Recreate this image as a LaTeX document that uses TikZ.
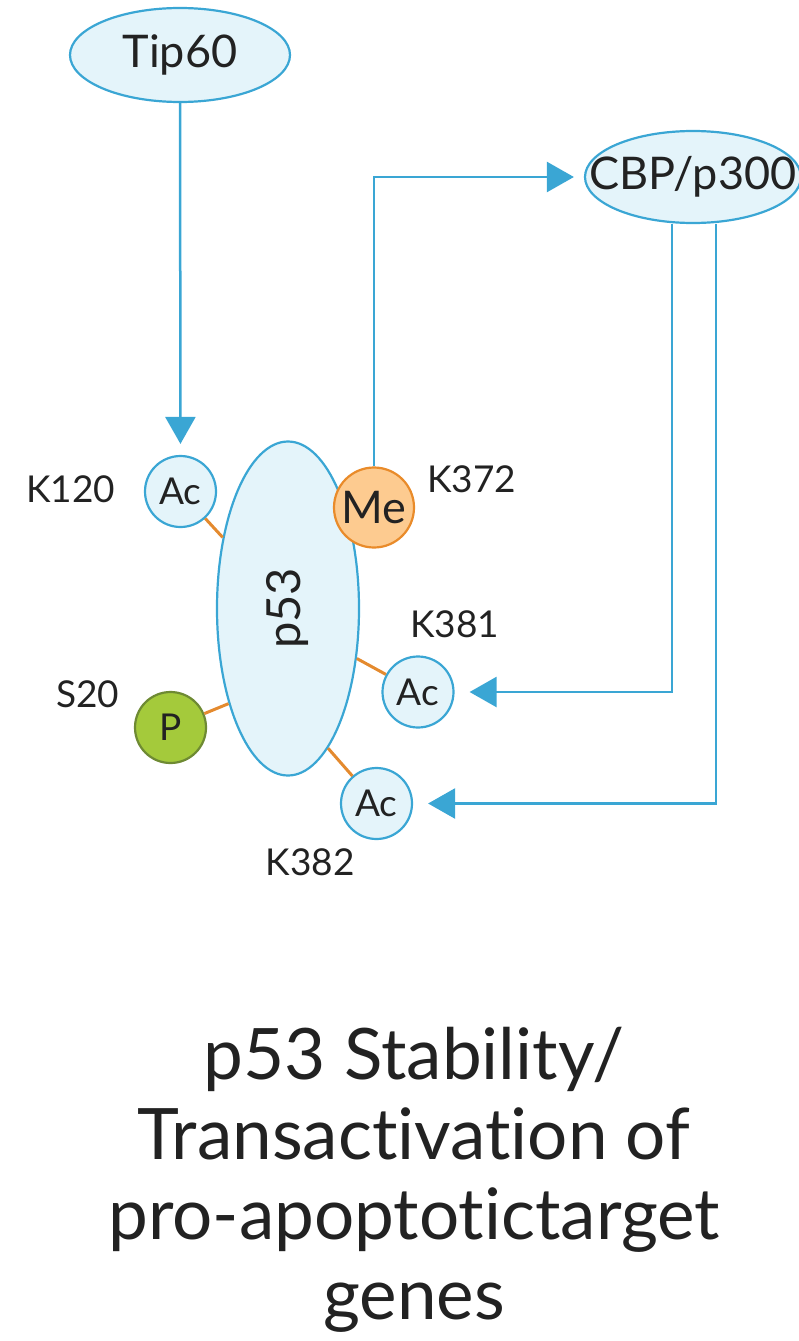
\documentclass[tikz,border=0pt]{standalone}
\usepackage{fontspec}
\setmainfont{Lato}[Ligatures=NoCommon]
\usetikzlibrary{arrows.meta,shapes.geometric,positioning}
\definecolor{pblue}{RGB}{58,166,212}
\definecolor{pfill}{RGB}{228,244,250}
\definecolor{porange}{RGB}{228,138,46}
\definecolor{mefill}{RGB}{253,203,144}
\definecolor{meline}{RGB}{233,139,42}
\definecolor{pgreen}{RGB}{164,202,59}
\definecolor{pgreenline}{RGB}{110,138,51}
\definecolor{ink}{RGB}{34,34,34}
\begin{document}
\begin{tikzpicture}[x=1pt,y=-1pt,
    bubble/.style={ellipse,draw=pblue,fill=pfill,line width=2.2pt,inner sep=0pt,text=ink},
    site/.style={circle,draw=pblue,fill=pfill,line width=2.2pt,minimum size=71pt,inner sep=0pt,text=ink,font=\fontsize{37}{40}\selectfont},
    arr/.style={draw=pblue,line width=2.5pt,-{Triangle[length=27pt,width=30pt]}},
    link/.style={draw=porange,line width=3pt},
    lbl/.style={text=ink,anchor=base,font=\fontsize{37}{40}\selectfont}]
  \useasboundingbox (0,0) rectangle (799,1341);
  % enzymes
  \node [bubble,minimum width=220pt,minimum height=94pt,font=\fontsize{45}{48}\selectfont] (tip60) at (180,55) {Tip60};
  \node [bubble,minimum width=216pt,minimum height=92pt,font=\fontsize{45}{48}\selectfont] (cbp) at (693,177) {\makebox[0pt]{CBP/p300}};
  % p53 and its marks
  \node [bubble,minimum width=142pt,minimum height=334pt,font=\fontsize{47}{50}\selectfont] (p53) at (288,608.5) {\rotatebox{90}{p53}};
  \node [site] (k120) at (180.5,491.5) {Ac};
  \node [site] (k381) at (418,692) {Ac};
  \node [site] (k382) at (376.5,803.5) {Ac};
  \node [site,fill=pgreen,draw=pgreenline] (s20) at (170.5,727.5) {P};
  \draw [link] (k120) -- (p53);
  \draw [link] (k381) -- (p53.324);
  \draw [link] (s20) -- (p53.238);
  \draw [link] (k382) -- (p53.286);
  \node [site,minimum size=80pt,fill=mefill,draw=meline,font=\fontsize{45}{48}\selectfont] (k372) at (374,507.5) {\makebox[0pt]{Me}};
  % residue labels
  \node [lbl] at (70.5,502) {K120};
  \node [lbl] at (471.5,492) {K372};
  \node [lbl] at (454.5,637) {K381};
  \node [lbl] at (87.5,707) {S20};
  \node [lbl] at (310,875) {K382};
  % arrows
  \draw [arr,shorten >=11pt] (tip60) -- (k120);
  \draw [arr,shorten >=10pt] (k372.north) |- (cbp.west);
  \draw [arr,shorten >=15pt] ([xshift=-21pt]cbp.south) |- (k381);
  \draw [arr,shorten >=15pt] ([xshift=23pt]cbp.south) |- (k382);
  % caption
  \node [text=ink,align=center,anchor=base,font=\fontsize{71}{80}\selectfont] (caption) at (414,1319)
    {p53 Stability/\\Transactivation of\\pro-apoptotictarget\\genes};
\end{tikzpicture}
\end{document}
